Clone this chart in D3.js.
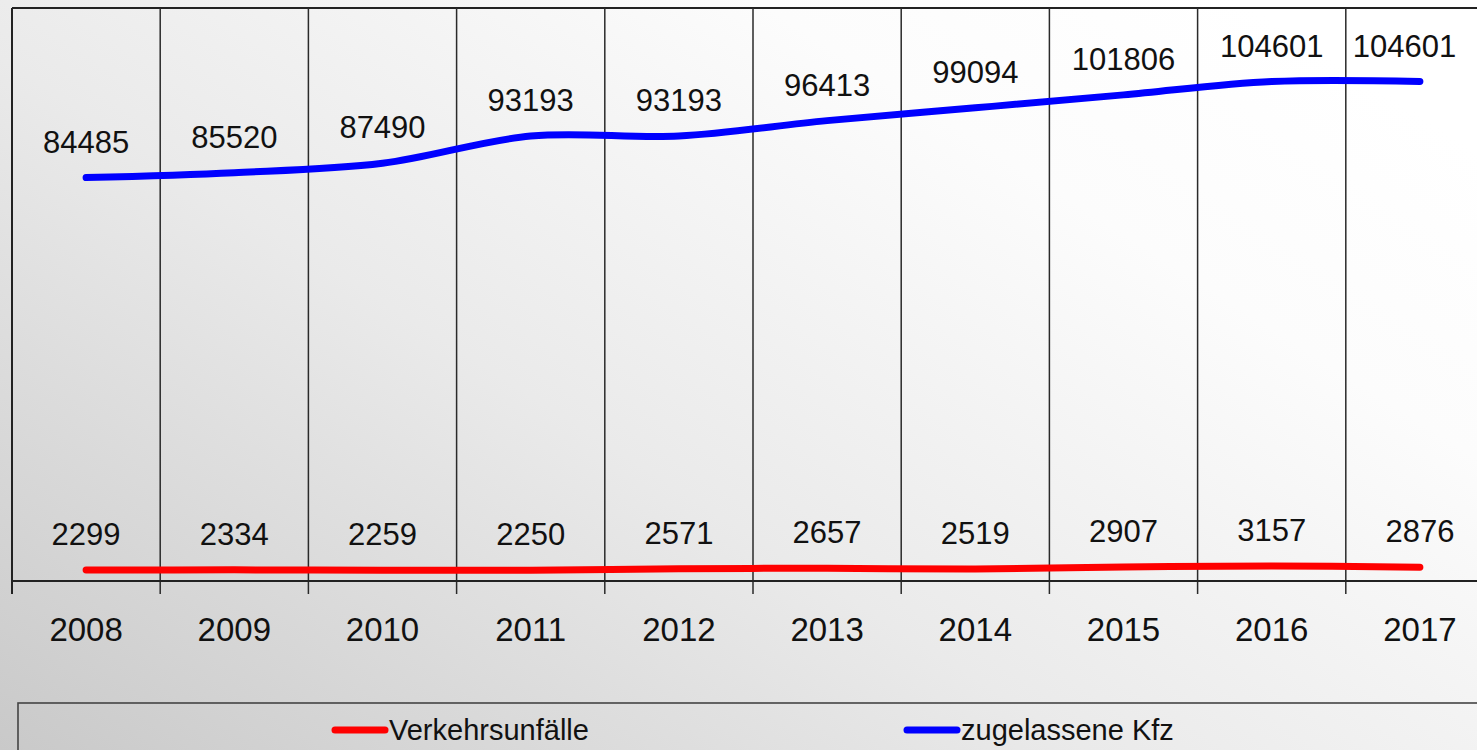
<!DOCTYPE html>
<html><head><meta charset="utf-8">
<script src="https://cdn.jsdelivr.net/npm/d3@7"></script>
<style>html,body{margin:0;padding:0;overflow:hidden;background:#fff}svg{display:block}</style>
</head><body>
<script>
const years = ["2008","2009","2010","2011","2012","2013","2014","2015","2016","2017"];
const unfaelle = [2299,2334,2259,2250,2571,2657,2519,2907,3157,2876];
const kfz = [84485,85520,87490,93193,93193,96413,99094,101806,104601,104601];
const seriesNames = ["Verkehrsunfälle","zugelassene Kfz"];

const W = 1477, H = 750;
const svg = d3.select("body").append("svg").attr("width", W).attr("height", H);
const defs = svg.append("defs");
const grad = defs.append("linearGradient").attr("id","bg")
  .attr("x1","0").attr("y1","1").attr("x2","1").attr("y2","0.2");
grad.append("stop").attr("offset","0").attr("stop-color","#c9c9c9");
grad.append("stop").attr("offset","0.45").attr("stop-color","#eaeaea");
grad.append("stop").attr("offset","0.8").attr("stop-color","#fcfcfc");
grad.append("stop").attr("offset","1").attr("stop-color","#ffffff");
svg.append("rect").attr("width",W).attr("height",H).attr("fill","url(#bg)");

const left = 12, bw = 148.2;
const x = d3.scaleBand().domain(years).range([left, left + bw*years.length]).padding(0);
const y = d3.scaleLinear().domain([0,120000]).range([581, 8]);
const font = "'Liberation Sans', Arial, sans-serif";

// plot frame
const g = svg.append("g");
g.append("line").attr("x1",left).attr("x2",W+20).attr("y1",y(120000)).attr("y2",y(120000))
  .attr("stroke","#222").attr("stroke-width",2);
// vertical grid at category boundaries + ticks below axis
const bounds = years.map(d => x(d)).concat([x.range()[1]]);
g.selectAll("line.grid").data(bounds).enter().append("line")
  .attr("x1",d=>d).attr("x2",d=>d).attr("y1",y(120000)).attr("y2",y(0)+13)
  .attr("stroke",(d,i)=> i===0 ? "#222" : "#2a2a2a").attr("stroke-width",(d,i)=> i===0 ? 2 : 1.5);
// x axis
const ax = svg.append("g").attr("transform",`translate(0,${y(0)})`)
  .call(d3.axisBottom(x).tickSize(0).tickPadding(37));
ax.select(".domain").attr("stroke","#222").attr("stroke-width",2).attr("d",`M${left},0H${W+20}`);
ax.selectAll("text").attr("font-family",font).attr("font-size",33).attr("fill","#111");

// lines
const line = d3.line().x((d,i)=>x(years[i])+x.bandwidth()/2).y(d=>y(d)).curve(d3.curveCatmullRom.alpha(0.5));
svg.append("path").attr("d",line(kfz)).attr("fill","none").attr("stroke","#0000ff")
  .attr("stroke-width",7).attr("stroke-linecap","round");
svg.append("path").attr("d",line(unfaelle)).attr("fill","none").attr("stroke","#ff0000")
  .attr("stroke-width",7).attr("stroke-linecap","round");

// data labels
function labels(data){
  svg.append("g").selectAll("text").data(data).enter().append("text")
    .attr("x",(d,i)=>{const cx = x(years[i])+x.bandwidth()/2; const hw = String(d).length*8.9; return Math.min(cx, 1458-hw);})
    .attr("y",d=>y(d)-25)
    .attr("text-anchor","middle").attr("font-family",font).attr("font-size",31).attr("fill","#111")
    .text(d=>d);
}
labels(kfz);
labels(unfaelle);

// legend
const lg = svg.append("g");
lg.append("rect").attr("x",18).attr("y",703).attr("width",W).attr("height",80)
  .attr("fill","none").attr("stroke","#444").attr("stroke-width",1.6);
const legendItems = [{name:seriesNames[0], color:"#ff0000", x:335},{name:seriesNames[1], color:"#0000ff", x:907}];
legendItems.forEach(it=>{
  lg.append("line").attr("x1",it.x).attr("x2",it.x+50).attr("y1",730).attr("y2",730)
    .attr("stroke",it.color).attr("stroke-width",7).attr("stroke-linecap","round");
  lg.append("text").attr("x",it.x+54).attr("y",740).attr("font-family",font).attr("font-size",29)
    .attr("fill","#111").text(it.name);
});
</script>
</body></html>
